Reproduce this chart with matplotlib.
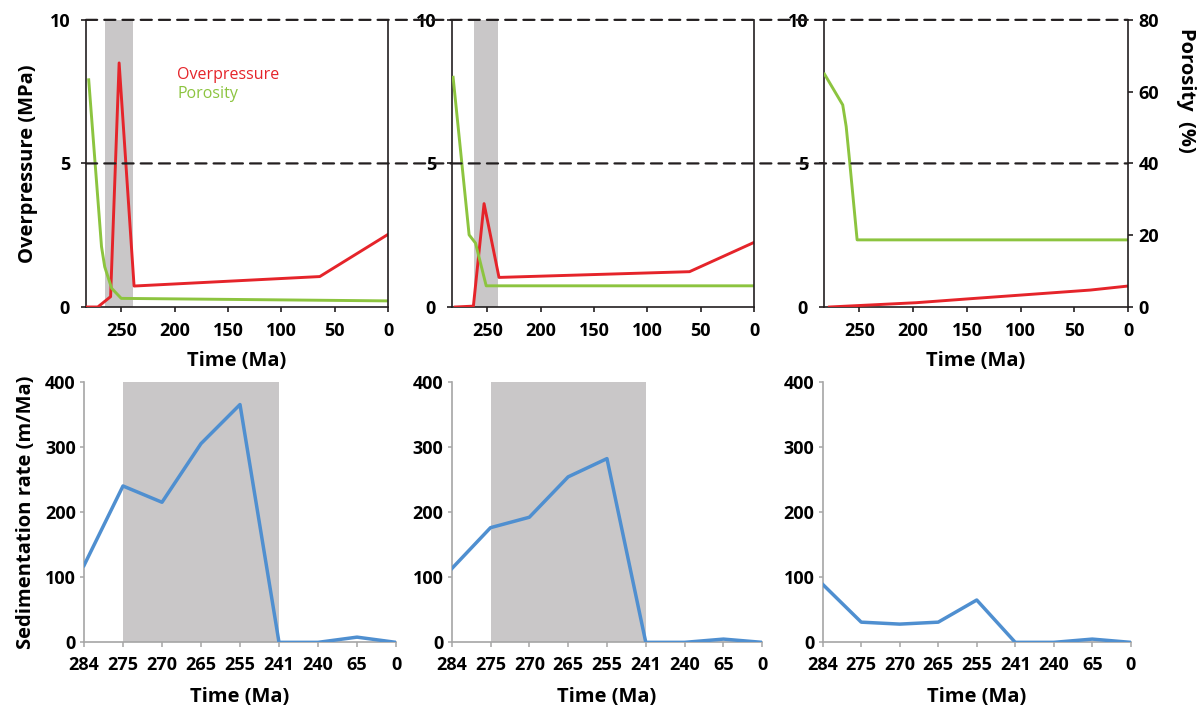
import matplotlib
matplotlib.use("Agg")
import matplotlib.pyplot as plt
from matplotlib.patches import ConnectionPatch

# ---- top row: overpressure (MPa) and porosity (%) through time (Ma) ----
TIME_OP_A = [283, 272, 260, 252, 238, 64, 0]
OP_A = [0.0, 0.0, 0.36, 8.5, 0.73, 1.06, 2.53]
TIME_POR_A = [280.5, 268.5, 265.5, 259, 250, 0]
POR_A = [63.3, 16.8, 11.2, 5.2, 2.4, 1.7]
BAND_A = (265, 239)

TIME_OP_B = [280, 263, 253, 239, 60.5, 0]
OP_B = [0.0, 0.03, 3.6, 1.03, 1.23, 2.25]
TIME_POR_B = [282, 267, 261, 251, 0]
POR_B = [64.0, 20.1, 17.8, 5.9, 5.9]
BAND_B = (262, 240)

TIME_OP_C = [278, 197, 150, 98, 35, 0]
OP_C = [0.0, 0.15, 0.28, 0.42, 0.59, 0.73]
TIME_POR_C = [282.6, 265.6, 262.4, 259.3, 252.2, 0]
POR_C = [64.9, 56.3, 50.3, 41.0, 18.7, 18.7]

TIME_TICKS = [250, 200, 150, 100, 50, 0]
OP_TICKS = [0, 5, 10]
POR_TICKS = [0, 20, 40, 60, 80]
REF_LEVELS = [5, 10]

# ---- bottom row: sedimentation rate per stratigraphic age ----
AGES = ["284", "275", "270", "265", "255", "241", "240", "65", "0"]
SED_A = [118, 240, 215, 305, 365, 0, 0, 8, 0]
SED_B = [113, 176, 192, 254, 282, 0, 0, 5, 0]
SED_C = [89, 31, 28, 31, 65, 0, 0, 5, 0]
SED_BAND = ("275", "241")
SED_TICKS = [0, 100, 200, 300, 400]

RED = "#e5242a"
GREEN = "#8cc43f"
BLUE = "#4f8fd0"
GREY = "#c9c7c8"
INK = "#231f20"
AXGREY = "#a6a6a6"

plt.rcParams.update({
    "font.family": ["Open Sans", "DejaVu Sans"],
    "font.weight": "bold",
    "axes.labelweight": "bold",
    "font.size": 13,
    "axes.labelsize": 14.5,
})

fig = plt.figure(figsize=(12, 7.09), dpi=100)
fig.patch.set_facecolor("white")

XMAX = 283


def top_panel(rect, t_op, op, t_por, por, band, xlabel, right_ticks):
    ax = fig.add_axes(rect)
    ax2 = ax.twinx()
    if band is not None:
        ax.axvspan(band[0], band[1], color=GREY, lw=0, zorder=0)
    ax.plot(t_op, op, color=RED, lw=2.1, zorder=3, label="Overpressure")
    ax2.plot(t_por, por, color=GREEN, lw=2.1, zorder=2, label="Porosity")
    ax.set_xlim(XMAX, 0)
    ax.set_ylim(0, 10)
    ax2.set_ylim(0, 80)
    ax.set_xticks(TIME_TICKS)
    ax.set_yticks(OP_TICKS)
    for s in ("top", "right"):
        ax.spines[s].set_visible(False)
    for s in ("top", "left", "bottom"):
        ax2.spines[s].set_visible(False)
    for s in ("left", "bottom"):
        ax.spines[s].set_color(INK)
        ax.spines[s].set_linewidth(1.2)
    ax2.spines["right"].set_color(INK)
    ax2.spines["right"].set_linewidth(1.2)
    ax.tick_params(axis="x", direction="out", length=3.5, width=1.2, color=INK, pad=7)
    ax.tick_params(axis="y", direction="out", length=3.5, width=1.2, color=INK, pad=8)
    if right_ticks:
        ax2.set_yticks(POR_TICKS)
        ax2.tick_params(axis="y", direction="out", length=3.5, width=1.2, color=INK, pad=4)
    else:
        ax2.set_yticks([])
    if xlabel:
        ax.set_xlabel("Time (Ma)", labelpad=8)
    return ax, ax2


def sed_panel(rect, values, ylabel, shaded):
    ax = fig.add_axes(rect)
    x = list(range(len(AGES)))
    if shaded:
        ax.axvspan(AGES.index(SED_BAND[0]), AGES.index(SED_BAND[1]),
                   color=GREY, lw=0, zorder=0)
    ax.plot(x, values, color=BLUE, lw=2.5, zorder=3)
    ax.set_xlim(0, len(AGES) - 1)
    ax.set_ylim(0, 400)
    ax.set_xticks(x)
    ax.set_xticklabels(AGES)
    ax.set_yticks(SED_TICKS)
    for s in ("top", "right"):
        ax.spines[s].set_visible(False)
    for s in ("left", "bottom"):
        ax.spines[s].set_color(AXGREY)
        ax.spines[s].set_linewidth(1.2)
    ax.tick_params(axis="x", direction="out", length=3.5, width=1.1, color=AXGREY, pad=6)
    ax.tick_params(axis="y", direction="out", length=3, width=1.1, color=AXGREY, pad=3)
    ax.set_xlabel("Time (Ma)", labelpad=10)
    if ylabel:
        ax.set_ylabel("Sedimentation rate (m/Ma)", labelpad=6)
    return ax


ax_a, ax2_a = top_panel([0.0717, 0.567, 0.2517, 0.405], TIME_OP_A, OP_A,
                        TIME_POR_A, POR_A, BAND_A, True, False)
ax_b, ax2_b = top_panel([0.3767, 0.567, 0.2517, 0.405], TIME_OP_B, OP_B,
                        TIME_POR_B, POR_B, BAND_B, False, False)
ax_c, ax2_c = top_panel([0.6867, 0.567, 0.2533, 0.405], TIME_OP_C, OP_C,
                        TIME_POR_C, POR_C, None, True, True)

ax_a.set_ylabel("Overpressure (MPa)", labelpad=8)
ax2_c.set_ylabel("Porosity  (%)", rotation=-90, ha="center", va="center")
ax2_c.yaxis.set_label_coords(1.19, 0.756)

handles = ax_a.get_lines()[:1] + ax2_a.get_lines()[:1]
leg = ax_a.legend(handles=handles, loc="upper left", bbox_to_anchor=(0.255, 0.885),
                  frameon=False, handlelength=0, handletextpad=0, labelspacing=0.2,
                  labelcolor="linecolor",
                  prop={"family": "Open Sans", "weight": "normal", "size": 11.5})

# dashed reference levels running across the three top panels
for lvl in REF_LEVELS:
    con = ConnectionPatch(xyA=(XMAX, lvl), coordsA=ax_a.transData,
                          xyB=(0, lvl), coordsB=ax_c.transData,
                          color=INK, lw=1.6, linestyle=(0, (5, 3.2)), zorder=5)
    fig.add_artist(con)

sed_panel([0.07, 0.094, 0.26, 0.3676], SED_A, True, True)
sed_panel([0.3764, 0.094, 0.2588, 0.3676], SED_B, False, True)
sed_panel([0.6856, 0.094, 0.2567, 0.3676], SED_C, False, False)

fig.savefig("out.png", dpi=100, facecolor="white")
